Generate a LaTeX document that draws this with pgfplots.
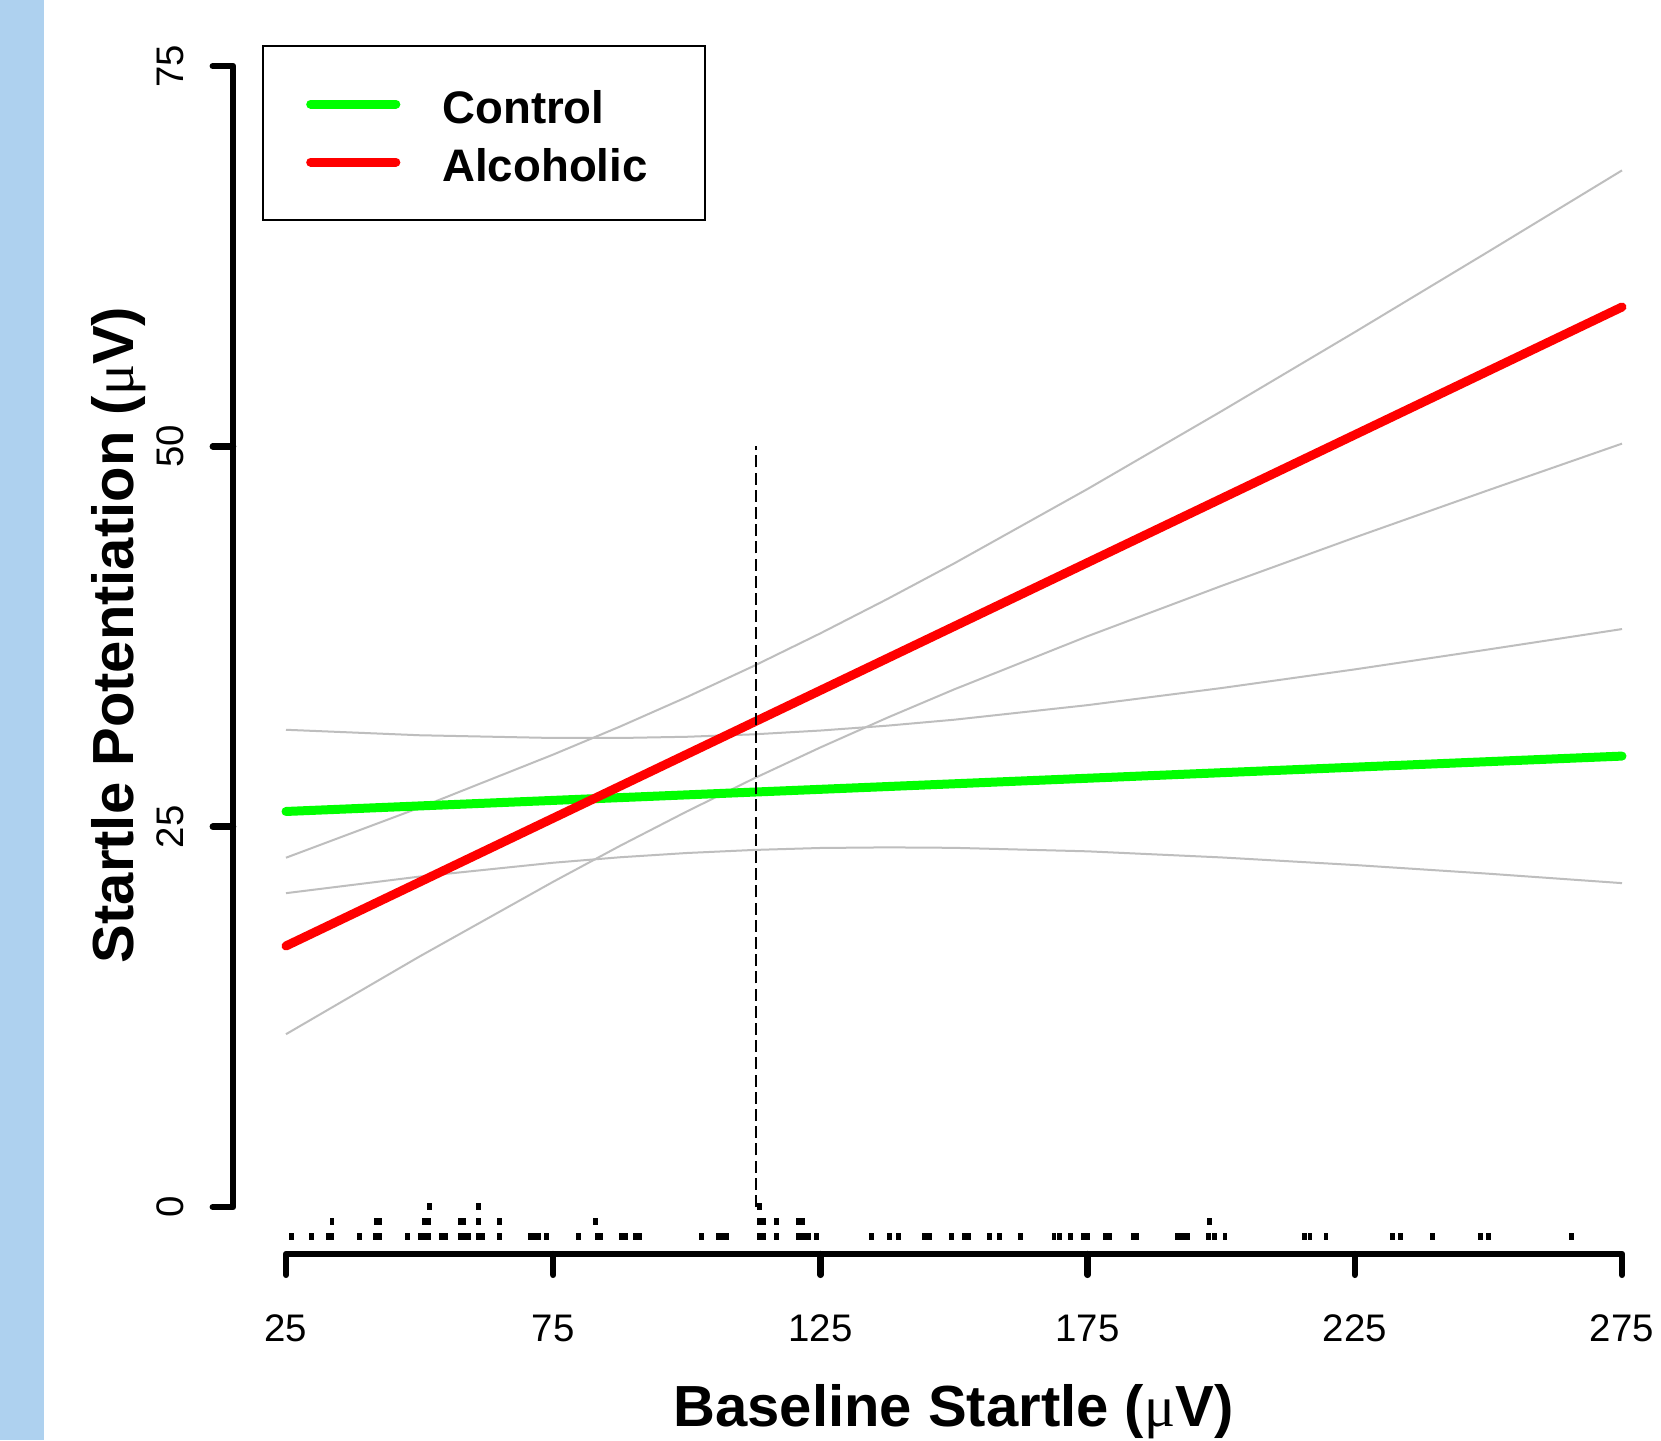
\documentclass[border=0pt]{standalone}
\usepackage{pgfplots}
\pgfplotsset{compat=1.18}
\usepackage{fontspec}
\setmainfont{Liberation Sans}
\newfontfamily\mufont{Liberation Serif}
\definecolor{stripe}{RGB}{174,209,239}
\definecolor{cigray}{RGB}{190,190,190}
\definecolor{rgreen}{RGB}{0,255,0}
\definecolor{rred}{RGB}{255,0,0}
\newcommand{\uV}{(\mbox{\mufont\mdseries μ}V)}
\begin{document}
\begin{tikzpicture}
\useasboundingbox (0,0) rectangle (415.25pt,360pt);
\fill[white] (0,0) rectangle (415.25pt,360pt);
\fill[stripe] (0,0) rectangle (11.1pt,360pt);
\begin{axis}[
  at={(71.5pt,58.25pt)}, anchor=south west,
  scale only axis, width=334pt, height=285.25pt,
  xmin=25, xmax=275, ymin=0, ymax=75,
  hide axis, clip=false,
  legend style={at={(axis cs:20.43,76.35)}, anchor=north west, draw=black, line width=0.5pt, fill=white,
    inner xsep=10.9pt, inner ysep=9.5pt, row sep=4.7pt, column sep=10.5pt,
    font=\bfseries\fontsize{11.4}{13.7}\selectfont,
    nodes={inner sep=0pt, text height=9.8pt, text depth=0pt, text width=54.8pt, align=left}},
  legend cell align=left,
  legend image code/.code={\draw[#1,line width=2.25pt,line cap=round] (1.1pt,0pt) -- (22.4pt,0pt);},
]
% confidence bands
\addplot[cigray, line width=0.5pt, forget plot] coordinates {(25,22.96) (50,26.25) (75,29.74) (87.5,31.58) (100,33.52) (112.5,35.56) (125,37.71) (137.5,39.96) (150,42.30) (175,47.20) (200,52.30) (225,57.51) (250,62.80) (275,68.14)};
\addplot[cigray, line width=0.5pt, forget plot] coordinates {(25,11.36) (50,16.47) (75,21.38) (87.5,23.74) (100,26.00) (112.5,28.16) (125,30.21) (137.5,32.16) (150,34.02) (175,37.52) (200,40.82) (225,44.01) (250,47.12) (275,50.18)};
\addplot[cigray, line width=0.5pt, forget plot] coordinates {(25,31.37) (50,31.01) (75,30.83) (87.5,30.83) (100,30.91) (112.5,31.07) (125,31.32) (137.5,31.64) (150,32.03) (175,32.99) (200,34.11) (225,35.34) (250,36.65) (275,37.99)};
\addplot[cigray, line width=0.5pt, forget plot] coordinates {(25,20.63) (50,21.72) (75,22.63) (87.5,22.99) (100,23.27) (112.5,23.47) (125,23.60) (137.5,23.64) (150,23.61) (175,23.38) (200,22.98) (225,22.48) (250,21.91) (275,21.29)};
% fitted lines
\addplot[rgreen, line width=2.25pt, line cap=round] coordinates {(25,26.00) (275,29.64)};
\addlegendentry{Control}
\addplot[rred, line width=2.25pt, line cap=round] coordinates {(25,17.16) (275,59.16)};
\addlegendentry{Alcoholic}
% mean baseline
\addplot[black, line width=0.5pt, dash pattern=on 3pt off 1.3pt, forget plot] coordinates {(112.9,0) (112.9,50)};
% rug (stacked)
\addplot[only marks, mark=|, mark size=0.875pt, black, line width=1.2pt, forget plot] coordinates {
(26.1,-1.97) (29.8,-1.97) (33.0,-1.97) (33.6,-1.97) (38.7,-1.97) (41.8,-1.97) (42.6,-1.97) (47.7,-1.97)
(50.1,-1.97) (50.9,-1.97) (51.6,-1.97) (54.1,-1.97) (54.8,-1.97) (57.6,-1.97) (58.4,-1.97) (59.1,-1.97)
(61.0,-1.97) (61.7,-1.97) (64.9,-1.97) (70.7,-1.97) (71.5,-1.97) (72.2,-1.97) (73.8,-1.97) (79.7,-1.97)
(83.2,-1.97) (83.9,-1.97) (87.8,-1.97) (88.5,-1.97) (90.4,-1.97) (91.1,-1.97) (102.8,-1.97) (106.0,-1.97)
(106.7,-1.97) (107.5,-1.97) (113.5,-1.97) (114.3,-1.97) (116.8,-1.97) (120.9,-1.97) (121.8,-1.97) (122.7,-1.97)
(124.2,-1.97) (134.6,-1.97) (137.9,-1.97) (139.6,-1.97) (144.5,-1.97) (145.4,-1.97) (149.6,-1.97) (151.9,-1.97)
(152.8,-1.97) (156.7,-1.97) (158.5,-1.97) (162.5,-1.97) (168.7,-1.97) (169.8,-1.97) (171.8,-1.97) (174.2,-1.97)
(175.0,-1.97) (178.4,-1.97) (179.1,-1.97) (183.6,-1.97) (184.2,-1.97) (191.8,-1.97) (192.7,-1.97) (193.7,-1.97)
(197.6,-1.97) (198.7,-1.97) (200.7,-1.97) (215.6,-1.97) (216.6,-1.97) (219.6,-1.97) (232.0,-1.97) (233.5,-1.97)
(239.5,-1.97) (248.5,-1.97) (250.0,-1.97) (265.6,-1.97)
(33.6,-0.97) (41.9,-0.97) (42.6,-0.97) (50.9,-0.97) (51.7,-0.97) (57.6,-0.97) (58.3,-0.97) (61.0,-0.97)
(64.9,-0.97) (82.9,-0.97) (113.5,-0.97) (114.3,-0.97) (116.8,-0.97) (120.8,-0.97) (121.7,-0.97) (197.8,-0.97)
(51.9,0.02) (61.0,0.02) (113.6,0.02)
};
% y axis (R style)
\draw[line width=1.6pt, line cap=round, line join=round] (axis cs:11.3,75) -- (axis cs:15.1,75) -- (axis cs:15.1,0) -- (axis cs:11.3,0);
\draw[line width=1.6pt, line cap=round] (axis cs:11.3,25) -- (axis cs:15.1,25);
\draw[line width=1.6pt, line cap=round] (axis cs:11.3,50) -- (axis cs:15.1,50);
% x axis
\draw[line width=1.6pt, line cap=round, line join=round] (axis cs:25,-4.46) -- (axis cs:25,-3.09) -- (axis cs:275,-3.09) -- (axis cs:275,-4.46);
\pgfplotsinvokeforeach{75,125,175,225}{\draw[line width=1.6pt, line cap=round] (axis cs:#1,-3.09) -- (axis cs:#1,-4.46);}
% tick labels
\pgfplotsinvokeforeach{25,75,125,175,225,275}{\node[anchor=base, inner sep=0pt, font=\fontsize{9.6}{11}\selectfont] at (axis cs:#1,-8.83) {#1};}
\pgfplotsinvokeforeach{0,25,50,75}{\node[rotate=90, anchor=base, inner sep=0pt, font=\fontsize{9.6}{11}\selectfont] at (axis cs:5.78,#1) {#1};}
% axis titles
\node[anchor=base, inner sep=0pt, font=\bfseries\fontsize{14.5}{17}\selectfont] at (axis cs:149.9,-14.46) {Baseline Startle \uV};
\node[rotate=90, anchor=base, inner sep=0pt, font=\bfseries\fontsize{14.5}{17}\selectfont] at (axis cs:-3.6,37.6) {Startle Potentiation \uV};
\end{axis}
\end{tikzpicture}
\end{document}
